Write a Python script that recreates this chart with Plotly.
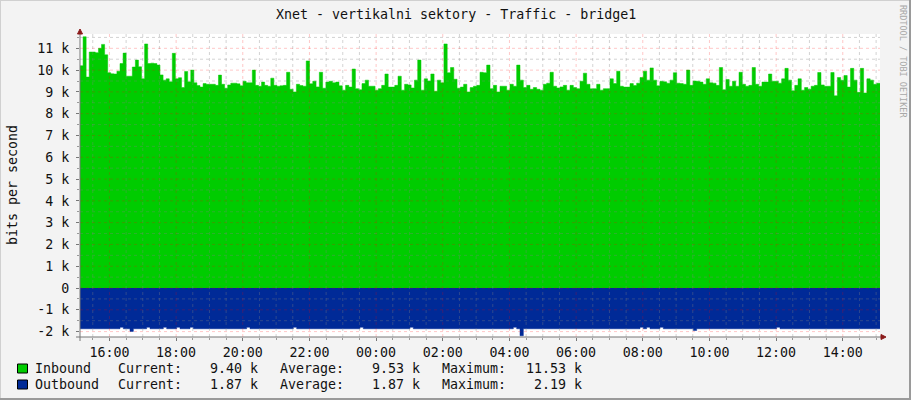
import pandas as pd
import plotly.graph_objects as go

# rrdtool traffic graph, values in k (bits per second / 1000)
# one list per six-hour stretch of the 24 h window
inbound_a = [10.2, 11.53, 9.68, 10.83, 10.83, 10.8, 11.0, 11.18, 10.7, 9.88,
             9.83, 9.82, 9.95, 10.3, 10.78, 9.72, 9.72, 10.14, 10.46, 10.15,
             9.6, 11.2, 10.3, 10.32, 10.3, 10.23, 9.78, 9.54, 9.6, 9.46,
             10.77, 9.6, 9.65, 9.2, 9.94, 9.46, 10.0, 9.42, 9.29, 9.22,
             9.38, 9.35, 9.35, 9.35, 9.3, 9.77, 9.35, 9.17, 9.32, 9.4,
             9.4, 9.37, 9.28, 9.49, 9.42, 9.42, 10.0, 9.3, 9.26, 9.45,
             9.3, 9.26, 9.63, 9.3, 9.26]
inbound_b = [9.28, 9.3, 9.9, 9.12, 9.0, 9.35, 9.29, 9.26, 10.42, 9.37,
             9.49, 9.23, 9.9, 9.17, 9.45, 9.49, 9.42, 9.45, 9.28, 9.08,
             9.3, 9.22, 10.05, 9.15, 9.1, 9.38, 9.54, 9.26, 9.26, 9.08,
             9.15, 9.3, 9.82, 9.22, 9.22, 9.3, 9.72, 9.08, 9.35, 9.32,
             9.18, 9.54, 10.46, 9.08, 9.6, 9.5, 9.82, 9.03, 9.54, 9.42,
             11.2, 9.88, 10.12, 9.58, 9.17, 9.22, 9.35, 9.0, 9.2, 9.26,
             9.3]
inbound_c = [9.9, 9.88, 10.23, 9.15, 9.3, 9.0, 9.26, 9.26, 9.08, 9.35,
             9.26, 10.23, 9.54, 9.2, 9.3, 9.12, 9.2, 9.12, 9.08, 9.35,
             9.4, 9.9, 9.26, 9.18, 9.23, 9.3, 9.08, 9.3, 9.2, 9.15,
             9.49, 9.86, 9.35, 9.14, 9.15, 9.35, 9.08, 9.15, 9.15, 9.6,
             9.38, 9.95, 9.26, 9.22, 9.22, 9.38, 9.29, 9.4, 9.66, 9.95,
             9.54, 10.1, 9.54, 9.28, 9.49, 9.46, 9.4, 9.54, 9.88, 9.4]
inbound_d = [9.38, 9.35, 10.0, 9.3, 9.5, 9.49, 9.45, 9.35, 9.6, 9.42,
             9.4, 9.3, 10.12, 9.1, 9.57, 9.26, 9.49, 9.26, 9.9, 9.35,
             9.26, 9.3, 10.12, 9.35, 9.26, 9.45, 9.45, 9.82, 9.49, 9.49,
             9.4, 9.6, 10.08, 9.54, 9.05, 9.3, 9.6, 9.08, 9.2, 9.12,
             9.26, 9.3, 9.89, 9.32, 9.26, 9.26, 9.89, 8.82, 9.66, 9.54,
             9.75, 9.22, 10.08, 9.54, 8.98, 10.08, 8.95, 9.6, 9.54, 9.35,
             9.40]

outbound_a = [1.87, 1.87, 1.87, 1.87, 1.87, 1.87, 1.87, 1.87, 1.87, 1.87,
              1.87, 1.87, 1.80, 1.87, 1.87, 1.99, 1.87, 1.87, 1.87, 1.87,
              1.80, 1.87, 1.87, 1.87, 1.87, 1.80, 1.87, 1.87, 1.87, 1.80,
              1.87, 1.87, 1.87, 1.80, 1.87, 1.87, 1.87, 1.87, 1.87, 1.87,
              1.87, 1.87, 1.87, 1.87, 1.87, 1.87, 1.87, 1.87, 1.87, 1.87,
              1.80, 1.87, 1.87, 1.87, 1.87, 1.87, 1.87, 1.87, 1.87, 1.87]
outbound_b = [1.87, 1.87, 1.87, 1.87, 1.80, 1.87, 1.87, 1.87, 1.87, 1.87,
              1.87, 1.87, 1.87, 1.87, 1.87, 1.87, 1.87, 1.87, 1.87, 1.87,
              1.87, 1.87, 1.87, 1.87, 1.80, 1.87, 1.87, 1.87, 1.87, 1.87,
              1.87, 1.87, 1.87, 1.87, 1.87, 1.87, 1.87, 1.87, 1.87, 1.80,
              1.87, 1.87, 1.87, 1.87, 1.87, 1.87, 1.87, 1.87, 1.87, 1.87,
              1.87, 1.87, 1.87, 1.87, 1.87, 1.87, 1.87, 1.87, 1.87, 1.87]
outbound_c = [1.87, 1.87, 1.87, 1.87, 1.87, 1.87, 1.87, 1.87, 1.87, 1.87,
              1.80, 1.87, 2.19, 1.87, 1.87, 1.87, 1.87, 1.87, 1.87, 1.87,
              1.87, 1.87, 1.87, 1.87, 1.87, 1.87, 1.87, 1.87, 1.87, 1.87,
              1.87, 1.87, 1.87, 1.87, 1.87, 1.87, 1.87, 1.87, 1.87, 1.87,
              1.87, 1.87, 1.87, 1.87, 1.87, 1.87, 1.87, 1.87, 1.80, 1.87,
              1.80, 1.87, 1.87, 1.87, 1.80, 1.87, 1.87, 1.87, 1.87, 1.87]
outbound_d = [1.87, 1.87, 1.87, 1.87, 1.95, 1.87, 1.87, 1.87, 1.87, 1.87,
              1.87, 1.87, 1.87, 1.87, 1.87, 1.87, 1.87, 1.87, 1.87, 1.87,
              1.87, 1.87, 1.87, 1.87, 1.87, 1.87, 1.87, 1.87, 1.87, 1.80,
              1.87, 1.87, 1.87, 1.87, 1.87, 1.87, 1.87, 1.87, 1.87, 1.87,
              1.87, 1.87, 1.87, 1.87, 1.87, 1.87, 1.87, 1.87, 1.87, 1.87,
              1.87, 1.87, 1.87, 1.87, 1.87, 1.87, 1.87, 1.87, 1.87, 1.87]

y_ticks = [-2, -1, 0, 1, 2, 3, 4, 5, 6, 7, 8, 9, 10, 11]
y_labels = ['-2 k', '-1 k', '0', '1 k', '2 k', '3 k', '4 k', '5 k',
            '6 k', '7 k', '8 k', '9 k', '10 k', '11 k']

# current / average / maximum as printed by rrdtool
legend_names = ['Inbound', 'Outbound']
legend_current = [9.40, 1.87]
legend_average = [9.53, 1.87]
legend_maximum = [11.53, 2.19]

TITLE = 'Xnet - vertikalni sektory - Traffic - bridge1'
GREEN = '#00CC00'
BLUE = '#002A97'
FONT = 'DejaVu Sans Mono'
FS = 13.3
GRID_MAJOR = 'rgba(255,0,0,0.22)'
GRID_MINOR = 'rgba(128,128,128,0.35)'

start = pd.Timestamp('2013-03-05 15:07')
end = start + pd.Timedelta(hours=24)
Y_MIN, Y_MAX = -2.248, 11.657

# pixel -> paper helpers (plot area 80..880 x 34..337)
L, R, T, B = 80, 31, 34, 63
W, H = 911, 400
PW, PH = W - L - R, H - T - B


def px(x):
    return (x - L) / PW


def py(y):
    return (H - B - y) / PH


def stepped(blocks):
    """Lay the blocks over consecutive six hour stretches."""
    xs, ys = [], []
    for k, vals in enumerate(blocks):
        b0 = start + pd.Timedelta(hours=6 * k)
        step = pd.Timedelta(hours=6) / len(vals)
        xs += [b0 + i * step for i in range(len(vals))]
        ys += list(vals)
    xs.append(end)
    ys.append(ys[-1])
    return xs, ys


x_in, y_in = stepped([inbound_a, inbound_b, inbound_c, inbound_d])
x_out, y_out = stepped([outbound_a, outbound_b, outbound_c, outbound_d])
y_out = [-v for v in y_out]

fig = go.Figure()
fig.add_trace(go.Scatter(x=x_in, y=y_in, mode='lines', line_shape='hv',
                         line=dict(color=GREEN, width=0.5),
                         fill='tozeroy', fillcolor=GREEN, hoverinfo='skip'))
fig.add_trace(go.Scatter(x=x_out, y=y_out, mode='lines', line_shape='hv',
                         line=dict(color=BLUE, width=0.5),
                         fill='tozeroy', fillcolor=BLUE, hoverinfo='skip'))

shapes = []
# grid drawn over the areas, like rrdtool does
t = start.ceil('30min')
while t < end:
    major = t.minute == 0 and t.hour % 2 == 0
    shapes.append(dict(type='line', xref='x', yref='paper', x0=t, x1=t, y0=0, y1=1,
                       line=dict(color=GRID_MAJOR if major else GRID_MINOR,
                                 width=1, dash='dot'), layer='above'))
    t += pd.Timedelta(minutes=30)
v = -2.0
while v < Y_MAX:
    major = float(v).is_integer()
    shapes.append(dict(type='line', xref='paper', yref='y', x0=0, x1=1, y0=v, y1=v,
                       line=dict(color=GRID_MAJOR if major else GRID_MINOR,
                                 width=1, dash='dot'), layer='above'))
    v += 0.5

# axes with arrow heads
AX = '#777777'
ARROW = '#8B1A1A'
shapes.append(dict(type='line', xref='paper', yref='paper', x0=px(76), x1=px(882),
                   y0=py(337), y1=py(337), line=dict(color=AX, width=1)))
shapes.append(dict(type='line', xref='paper', yref='paper', x0=px(80), x1=px(80),
                   y0=py(341), y1=py(32), line=dict(color=AX, width=1)))
shapes.append(dict(type='path', xref='paper', yref='paper', fillcolor=ARROW,
                   line=dict(color=ARROW, width=1),
                   path=f'M {px(77.5)},{py(34)} L {px(82.5)},{py(34)} L {px(80)},{py(29)} Z'))
shapes.append(dict(type='path', xref='paper', yref='paper', fillcolor=ARROW,
                   line=dict(color=ARROW, width=1),
                   path=f'M {px(881)},{py(334.5)} L {px(881)},{py(339.5)} L {px(886)},{py(337)} Z'))

# image border
shapes.append(dict(type='line', xref='paper', yref='paper', x0=px(0), x1=px(W),
                   y0=py(0.5), y1=py(0.5), line=dict(color='#D0D0D0', width=1)))
shapes.append(dict(type='line', xref='paper', yref='paper', x0=px(0.5), x1=px(0.5),
                   y0=py(0), y1=py(H), line=dict(color='#D0D0D0', width=1)))
shapes.append(dict(type='line', xref='paper', yref='paper', x0=px(0), x1=px(W),
                   y0=py(H - 1), y1=py(H - 1), line=dict(color='#9A9A9A', width=2)))
shapes.append(dict(type='line', xref='paper', yref='paper', x0=px(W - 1), x1=px(W - 1),
                   y0=py(0), y1=py(H), line=dict(color='#9A9A9A', width=2)))

# legend boxes
for i, color in enumerate([GREEN, BLUE]):
    top = 364 + 16 * i
    shapes.append(dict(type='rect', xref='paper', yref='paper',
                       x0=px(17.5), x1=px(27.5), y0=py(top), y1=py(top + 9),
                       fillcolor=color, line=dict(color='black', width=1)))

ann = []
base = dict(xref='paper', yref='paper', showarrow=False,
            font=dict(family=FONT, size=FS, color='#111111'))
ann.append(dict(base, x=px(455.5), y=py(14), text=TITLE, xanchor='center', yanchor='middle'))
ann.append(dict(base, x=px(12), y=py(185), text='bits per second', textangle=-90,
                xanchor='center', yanchor='middle'))
ann.append(dict(base, x=px(903), y=py(61), text='RRDTOOL / TOBI OETIKER', textangle=90,
                xanchor='center', yanchor='middle',
                font=dict(family=FONT, size=8.5, color='#A8A8A8')))
for i, name in enumerate(legend_names):
    yy = py(368.5 + 16 * i)
    ann.append(dict(base, x=px(33), y=yy, text=name, xanchor='left', yanchor='middle'))
    for lx, label, val in [(116, 'Current:', legend_current[i]),
                           (278, 'Average:', legend_average[i]),
                           (440, 'Maximum:', legend_maximum[i])]:
        ann.append(dict(base, x=px(lx), y=yy, text=label, xanchor='left', yanchor='middle'))
        ann.append(dict(base, x=px(lx + 144), y=yy, text=f'{val:.2f} k',
                        xanchor='right', yanchor='middle'))

fig.update_layout(
    width=W, height=H,
    margin=dict(l=L, r=R, t=T, b=B),
    paper_bgcolor='#F3F3F3',
    plot_bgcolor='#FFFFFF',
    showlegend=False,
    shapes=shapes,
    annotations=ann,
    xaxis=dict(type='date', range=[start, end], showgrid=False, zeroline=False,
               showline=False, ticks='outside', ticklen=3, tickcolor=AX,
               tick0='2013-03-05 16:00', dtick=2 * 3600 * 1000, tickformat='%H:%M',
               tickfont=dict(family=FONT, size=FS, color='#111111'),
               minor=dict(dtick=1800 * 1000, ticks='outside', ticklen=2,
                          tickcolor='#999999', showgrid=False),
               fixedrange=True),
    yaxis=dict(range=[Y_MIN, Y_MAX], showgrid=False, zeroline=False, showline=False,
               tickmode='array', tickvals=y_ticks, ticktext=y_labels,
               ticks='outside', ticklen=3, tickcolor=AX, ticklabelstandoff=4,
               tickfont=dict(family=FONT, size=FS, color='#111111'),
               minor=dict(dtick=0.5, tick0=0, ticks='outside', ticklen=2,
                          tickcolor='#999999', showgrid=False),
               fixedrange=True),
)

# the page body has a default margin; drop it so the figure sits at 0,0
fig.write_html('out.html', config={'displayModeBar': False},
               post_script="document.body.style.margin='0';")
